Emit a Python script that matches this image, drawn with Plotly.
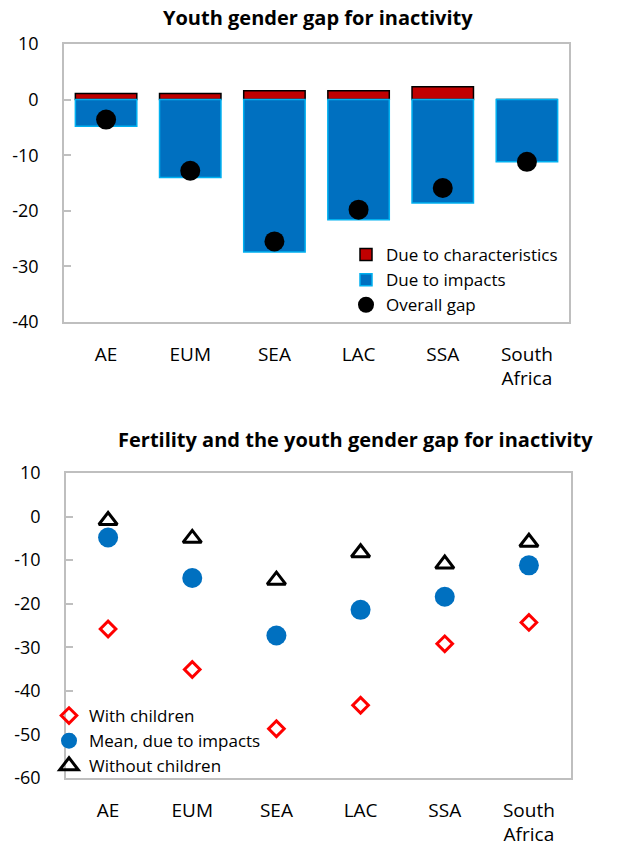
import plotly.graph_objects as go

W, H = 626, 850

# ---------------- data ----------------
regions = ["AE", "EUM", "SEA", "LAC", "SSA", "South<br>Africa"]

# Top panel: youth gender gap for inactivity
due_to_characteristics = [1.1, 1.1, 1.6, 1.6, 2.3, 0.0]
due_to_impacts = [-4.8, -14.0, -27.4, -21.6, -18.6, -11.2]
overall_gap = [-3.6, -12.8, -25.5, -19.8, -15.9, -11.2]

# Bottom panel: fertility and the youth gender gap for inactivity
with_children = [-25.8, -35.1, -48.7, -43.3, -29.2, -24.3]
mean_due_to_impacts = [-4.8, -14.1, -27.3, -21.4, -18.4, -11.2]
without_children = [-0.9, -5.0, -14.6, -8.3, -10.9, -5.9]

top_ticks = [10, 0, -10, -20, -30, -40]
bottom_ticks = [10, 0, -10, -20, -30, -40, -50, -60]
top_range = [-40, 10]
bottom_range = [-60, 10]

title_top = "Youth gender gap for inactivity"
title_bottom = "Fertility and the youth gender gap for inactivity"

# ---------------- style ----------------
FONT = "Open Sans"
GRID = "#BFBFBF"
RED = "#C00000"
BLUE = "#0070C0"
CYAN = "#00B0F0"
YTICK_SIZE = 18
XTICK_SIZE = 19
LEG_SIZE = 17
TITLE_SIZE = 20


def dom_x(left, right):
    return [left / W, right / W]


def dom_y(top, bottom):
    return [1 - bottom / H, 1 - top / H]


top_dx = dom_x(64, 569)
top_dy = dom_y(44, 322)
bot_dx = dom_x(66, 571)
bot_dy = dom_y(473, 778)


def zero_pos(dy, rng):
    return dy[0] + (0 - rng[0]) / (rng[1] - rng[0]) * (dy[1] - dy[0])


fig = go.Figure()

# top panel traces
fig.add_trace(go.Bar(
    x=regions, y=due_to_characteristics, name="Due to characteristics",
    marker=dict(color=RED, line=dict(color="black", width=1.5)),
    width=0.73, xaxis="x", yaxis="y", legend="legend"))
fig.add_trace(go.Bar(
    x=regions, y=due_to_impacts, name="Due to impacts",
    marker=dict(color=BLUE, line=dict(color=CYAN, width=1.5)),
    width=0.73, xaxis="x", yaxis="y", legend="legend"))
fig.add_trace(go.Scatter(
    x=regions, y=overall_gap, name="Overall gap", mode="markers",
    marker=dict(color="black", size=20, symbol="circle"),
    xaxis="x", yaxis="y", legend="legend"))

# bottom panel traces
fig.add_trace(go.Scatter(
    x=regions, y=with_children, name="With children", mode="markers",
    marker=dict(symbol="diamond-open", size=12, color="#FF0000",
                line=dict(color="#FF0000", width=3)),
    xaxis="x2", yaxis="y2", legend="legend2"))
fig.add_trace(go.Scatter(
    x=regions, y=mean_due_to_impacts, name="Mean, due to impacts", mode="markers",
    marker=dict(symbol="circle", size=20, color=BLUE),
    xaxis="x2", yaxis="y2", legend="legend2"))
fig.add_trace(go.Scatter(
    x=regions, y=without_children, name="Without children", mode="markers",
    marker=dict(symbol="triangle-up-open", size=16, color="black",
                line=dict(color="black", width=3)),
    xaxis="x2", yaxis="y2", legend="legend2"))

ytickfont = dict(family=FONT, size=YTICK_SIZE, color="black")
xtickfont = dict(family=FONT, size=XTICK_SIZE, color="black")
cat_order = dict(categoryorder="array", categoryarray=regions)
boundaries = [0.5, 1.5, 2.5, 3.5, 4.5]

xbase = dict(range=[-0.5, 5.5], showline=True, mirror=True, linecolor=GRID,
             linewidth=1.5, ticks="", showgrid=False, zeroline=False,
             tickfont=xtickfont, ticklabelstandoff=14, automargin=False,
             **cat_order)
ybase = dict(showline=True, mirror=True, linecolor=GRID, linewidth=1.5,
             ticks="inside", ticklen=7, tickcolor=GRID, tickwidth=1.5,
             showgrid=False, zeroline=False, tickfont=ytickfont,
             ticklabelstandoff=20, automargin=False)
zbase = dict(type="linear", range=[-0.5, 5.5], tickvals=boundaries,
             ticks="inside", ticklen=7, tickcolor=GRID, tickwidth=1.5,
             showticklabels=False, showline=True, linecolor=GRID,
             linewidth=1.5, showgrid=False, zeroline=False, anchor="free",
             automargin=False)

top_ticktext = [str(v) for v in top_ticks]
bottom_ticktext = [str(v) for v in bottom_ticks]

fig.update_layout(
    width=W, height=H, autosize=False,
    margin=dict(l=0, r=0, t=0, b=0, autoexpand=False),
    paper_bgcolor="white", plot_bgcolor="white",
    barmode="relative", bargap=0.27,
    font=dict(family=FONT, color="black"),
    xaxis=dict(domain=top_dx, anchor="y", **xbase),
    yaxis=dict(domain=top_dy, anchor="x", range=top_range, tickvals=top_ticks,
               ticktext=top_ticktext, **ybase),
    yaxis3=dict(overlaying="y", side="right", anchor="x", range=top_range,
                tickvals=top_ticks, ticktext=top_ticktext, **ybase),
    xaxis3=dict(overlaying="x", position=zero_pos(top_dy, top_range), **zbase),
    xaxis2=dict(domain=bot_dx, anchor="y2", **xbase),
    yaxis2=dict(domain=bot_dy, anchor="x2", range=bottom_range, tickvals=bottom_ticks,
                ticktext=bottom_ticktext, **ybase),
    yaxis4=dict(overlaying="y2", side="right", anchor="x2", range=bottom_range,
                tickvals=bottom_ticks, ticktext=bottom_ticktext, **ybase),
    xaxis4=dict(overlaying="x2", position=zero_pos(bot_dy, bottom_range), **zbase),
    legend=dict(x=346 / W, y=1 - 237 / H, xanchor="left", yanchor="top",
                bgcolor="rgba(0,0,0,0)", traceorder="normal",
                font=dict(family=FONT, size=LEG_SIZE, color="black"),
                itemwidth=30, tracegroupgap=0),
    legend2=dict(x=49 / W, y=1 - 698 / H, xanchor="left", yanchor="top",
                 bgcolor="rgba(0,0,0,0)", traceorder="normal",
                 font=dict(family=FONT, size=LEG_SIZE, color="black"),
                 itemwidth=30, tracegroupgap=0),
    showlegend=True,
    annotations=[
        dict(text="<b>" + title_top + "</b>", x=318 / W, y=1 - 18 / H,
             xref="paper", yref="paper", xanchor="center", yanchor="middle",
             showarrow=False, font=dict(family=FONT, size=TITLE_SIZE, color="black")),
        dict(text="<b>" + title_bottom + "</b>", x=356 / W, y=1 - 439 / H,
             xref="paper", yref="paper", xanchor="center", yanchor="middle",
             showarrow=False, font=dict(family=FONT, size=TITLE_SIZE, color="black")),
    ],
)

fig.write_html(
    "out.html",
    config={"displayModeBar": False},
    post_script="document.body.style.margin='0px';document.body.style.overflow='hidden';",
)
